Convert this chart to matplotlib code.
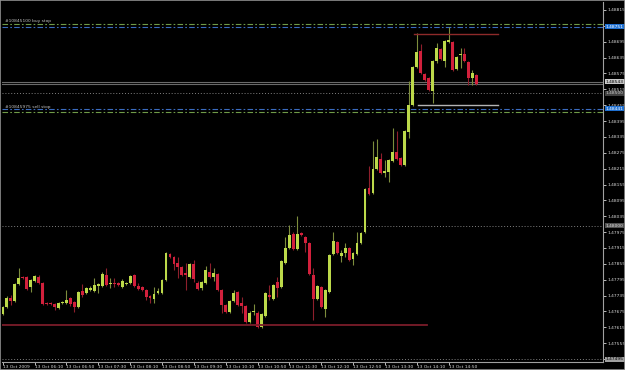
import matplotlib
matplotlib.use("Agg")
import matplotlib.pyplot as plt
import matplotlib.transforms as mtransforms
from matplotlib import font_manager

# narrow face if the box has one, else plain DejaVu
names = {f.name for f in font_manager.fontManager.ttflist}
NARROW = 'DejaVu Sans Condensed' in names or 'Liberation Sans Narrow' in names
plt.rcParams['font.family'] = ['DejaVu Sans Condensed', 'Liberation Sans Narrow', 'DejaVu Sans'] \
    if NARROW else ['DejaVu Sans']
FS = 3.7 if NARROW else 3.2

# EURUSD M5, 13 Oct 2009 -- one value per candle
opens = [
    1.47666, 1.47692, 1.47726, 1.47715, 1.47779, 1.47806, 1.47806, 1.47768, 1.47791, 1.47806,
    1.47783, 1.47707, 1.47706, 1.47704, 1.47689, 1.47707, 1.47707, 1.47726, 1.47711, 1.47692,
    1.47753, 1.47745, 1.47757, 1.47753, 1.47772, 1.47772, 1.47813, 1.47779, 1.47780, 1.47783,
    1.47768, 1.47779, 1.47783, 1.47813, 1.47772, 1.47768, 1.47757, 1.47734, 1.47723, 1.47745,
    1.47745, 1.47794, 1.47893, 1.47881, 1.47859, 1.47844, 1.47821, 1.47806, 1.47855, 1.47783,
    1.47764, 1.47783, 1.47825, 1.47806, 1.47817, 1.47757, 1.47700, 1.47673, 1.47715, 1.47749,
    1.47707, 1.47696, 1.47636, 1.47673, 1.47670, 1.47617, 1.47658, 1.47738, 1.47723, 1.47787,
    1.47768, 1.47859, 1.47915, 1.47968, 1.47912, 1.47972, 1.47957, 1.47934, 1.47813, 1.47723,
    1.47768, 1.47685, 1.47749, 1.47893, 1.47938, 1.47885, 1.47897, 1.47915, 1.47874, 1.47893,
    1.47934, 1.47976, 1.48142, 1.48123, 1.48214, 1.48252, 1.48199, 1.48203, 1.48244, 1.48278,
    1.48256, 1.48229, 1.48354, 1.48456, 1.48600, 1.48660, 1.48573, 1.48558, 1.48509, 1.48622,
    1.48668, 1.48622, 1.48694, 1.48694, 1.48592, 1.48645, 1.48649, 1.48618, 1.48558, 1.48569,
]
highs = [
    1.47696, 1.47734, 1.47738, 1.47783, 1.47840, 1.47810, 1.47810, 1.47798, 1.47813, 1.47813,
    1.47787, 1.47711, 1.47711, 1.47707, 1.47711, 1.47715, 1.47757, 1.47730, 1.47715, 1.47753,
    1.47779, 1.47768, 1.47772, 1.47802, 1.47783, 1.47825, 1.47840, 1.47802, 1.47800, 1.47787,
    1.47798, 1.47787, 1.47813, 1.47817, 1.47783, 1.47772, 1.47760, 1.47738, 1.47768, 1.47764,
    1.47798, 1.47900, 1.47897, 1.47885, 1.47881, 1.47847, 1.47859, 1.47859, 1.47870, 1.47791,
    1.47791, 1.47847, 1.47859, 1.47840, 1.47821, 1.47760, 1.47704, 1.47719, 1.47757, 1.47753,
    1.47730, 1.47700, 1.47677, 1.47704, 1.47677, 1.47670, 1.47749, 1.47776, 1.47779, 1.47806,
    1.47870, 1.47957, 1.48002, 1.47976, 1.48036, 1.47976, 1.47961, 1.47938, 1.47840, 1.47776,
    1.47772, 1.47760, 1.47893, 1.47976, 1.47942, 1.47908, 1.47934, 1.47919, 1.47900, 1.47976,
    1.47976, 1.48142, 1.48225, 1.48320, 1.48327, 1.48275, 1.48248, 1.48252, 1.48369, 1.48358,
    1.48259, 1.48361, 1.48547, 1.48603, 1.48728, 1.48686, 1.48577, 1.48562, 1.48626, 1.48690,
    1.48671, 1.48702, 1.48750, 1.48698, 1.48641, 1.48671, 1.48671, 1.48622, 1.48588, 1.48573,
]
lows = [
    1.47662, 1.47689, 1.47700, 1.47711, 1.47776, 1.47798, 1.47757, 1.47749, 1.47787, 1.47779,
    1.47700, 1.47700, 1.47698, 1.47681, 1.47685, 1.47704, 1.47704, 1.47696, 1.47673, 1.47689,
    1.47730, 1.47742, 1.47753, 1.47749, 1.47745, 1.47768, 1.47772, 1.47764, 1.47766, 1.47772,
    1.47764, 1.47776, 1.47779, 1.47768, 1.47757, 1.47753, 1.47719, 1.47707, 1.47707, 1.47742,
    1.47742, 1.47791, 1.47878, 1.47832, 1.47802, 1.47810, 1.47757, 1.47802, 1.47787, 1.47757,
    1.47757, 1.47779, 1.47802, 1.47791, 1.47753, 1.47670, 1.47670, 1.47670, 1.47711, 1.47696,
    1.47670, 1.47632, 1.47632, 1.47662, 1.47613, 1.47613, 1.47655, 1.47719, 1.47719, 1.47730,
    1.47764, 1.47855, 1.47912, 1.47908, 1.47908, 1.47961, 1.47900, 1.47813, 1.47643, 1.47719,
    1.47689, 1.47655, 1.47745, 1.47889, 1.47893, 1.47862, 1.47881, 1.47866, 1.47851, 1.47889,
    1.47931, 1.47972, 1.48116, 1.48120, 1.48210, 1.48195, 1.48184, 1.48165, 1.48240, 1.48248,
    1.48225, 1.48225, 1.48331, 1.48452, 1.48596, 1.48573, 1.48547, 1.48509, 1.48464, 1.48615,
    1.48626, 1.48600, 1.48690, 1.48584, 1.48588, 1.48596, 1.48618, 1.48532, 1.48532, 1.48532,
]
closes = [
    1.47692, 1.47726, 1.47715, 1.47779, 1.47802, 1.47802, 1.47760, 1.47794, 1.47810, 1.47783,
    1.47704, 1.47704, 1.47703, 1.47692, 1.47707, 1.47711, 1.47719, 1.47704, 1.47692, 1.47749,
    1.47738, 1.47764, 1.47764, 1.47776, 1.47779, 1.47817, 1.47776, 1.47780, 1.47779, 1.47776,
    1.47791, 1.47783, 1.47810, 1.47772, 1.47760, 1.47757, 1.47730, 1.47726, 1.47742, 1.47753,
    1.47794, 1.47897, 1.47881, 1.47855, 1.47844, 1.47813, 1.47813, 1.47855, 1.47798, 1.47760,
    1.47787, 1.47832, 1.47806, 1.47821, 1.47757, 1.47700, 1.47673, 1.47715, 1.47745, 1.47700,
    1.47696, 1.47636, 1.47670, 1.47674, 1.47617, 1.47666, 1.47745, 1.47730, 1.47776, 1.47764,
    1.47866, 1.47915, 1.47965, 1.47912, 1.47968, 1.47965, 1.47934, 1.47817, 1.47723, 1.47772,
    1.47692, 1.47757, 1.47889, 1.47942, 1.47897, 1.47897, 1.47915, 1.47870, 1.47897, 1.47934,
    1.47972, 1.48138, 1.48120, 1.48214, 1.48259, 1.48199, 1.48206, 1.48248, 1.48278, 1.48252,
    1.48229, 1.48358, 1.48456, 1.48600, 1.48656, 1.48577, 1.48550, 1.48513, 1.48622, 1.48671,
    1.48630, 1.48698, 1.48702, 1.48588, 1.48637, 1.48646, 1.48622, 1.48558, 1.48577, 1.48535,
]

time_labels = ["13 Oct 2009", "13 Oct 06:10", "13 Oct 06:50", "13 Oct 07:30", "13 Oct 08:10",
               "13 Oct 08:50", "13 Oct 09:30", "13 Oct 10:10", "13 Oct 10:50", "13 Oct 11:30",
               "13 Oct 12:10", "13 Oct 12:50", "13 Oct 13:30", "13 Oct 14:10", "13 Oct 14:50"]
LABEL_EVERY = 8

price_ticks = [1.47495 + 0.0006 * k for k in range(23)]

BUY_STOP = 1.48751
BUY_STOP_TP = 1.48762
SELL_STOP = 1.48441
SELL_STOP_TP = 1.48429
BID = 1.48535
ASK = 1.48543
LEVEL_1 = 1.48500
LEVEL_2 = 1.48000
LEVEL_3 = 1.47495
SUPPORT = 1.47625
RANGE_TOP = 1.48725
RANGE_BOT = 1.48455

BG = 'black'
BULL = '#bcd94a'
BEAR = '#d2203c'
BULL_WICK = '#7d8d3c'
BEAR_WICK = '#8e1f2c'
FG = '#d8d8d8'

fig = plt.figure(figsize=(6.25, 3.7), dpi=100, facecolor=BG)
ax = fig.add_axes([2 / 625, 8 / 370, 601 / 625, 360 / 370], facecolor=BG)

n = len(closes)
for i in range(n):
    o, h, l, c = opens[i], highs[i], lows[i], closes[i]
    up = c >= o
    ax.vlines(i, l, h, color=BULL_WICK if up else BEAR_WICK, lw=0.8, zorder=2)
    bot = min(o, c)
    height = max(abs(c - o), 0.00004)
    ax.bar(i, height, bottom=bot, width=0.72, color=BULL if up else BEAR, lw=0, zorder=3)

ax.set_xlim(-0.2, 150.8)
ax.set_ylim(1.47484, 1.48845)

# horizontal levels
dotted = (0, (1, 2))
ax.axhline(LEVEL_2, color='#808080', lw=0.7, ls=dotted, zorder=1)
ax.axhline(LEVEL_1, color='#808080', lw=0.7, ls=dotted, zorder=1)
ax.axhline(LEVEL_3, color='#808080', lw=0.7, ls=dotted, zorder=1)
ax.axhline(BID, color='#6a6a6a', lw=0.8, zorder=1)
ax.axhline(ASK, color='#6a6a6a', lw=0.8, zorder=1)
dashdot = (0, (5, 2, 1.5, 2))
ax.axhline(BUY_STOP_TP, color='#6f9a48', lw=0.8, ls=dashdot, zorder=1)
ax.axhline(BUY_STOP, color='#3a6cc0', lw=0.8, ls=dashdot, zorder=1)
ax.axhline(SELL_STOP, color='#3a6cc0', lw=0.8, ls=dashdot, zorder=1)
ax.axhline(SELL_STOP_TP, color='#6f9a48', lw=0.8, ls=dashdot, zorder=1)

ax.text(0.5, BUY_STOP_TP + 0.00003, "#10845100 buy stop", color='#c0c0c0', fontsize=FS,
        va='bottom', ha='left')
ax.text(0.5, SELL_STOP + 0.00001, "#10845975 sell stop", color='#c0c0c0', fontsize=FS,
        va='bottom', ha='left')

# drawn lines
ax.plot([-0.2, 106.6], [SUPPORT, SUPPORT], color='#7a1c2a', lw=1.3, zorder=4)
ax.plot([103.3, 124.4], [RANGE_TOP, RANGE_TOP], color='#8e2a2a', lw=1.0, zorder=4)
ax.plot([104.3, 124.4], [RANGE_BOT, RANGE_BOT], color='#b4b4b4', lw=1.0, zorder=4)

# axes styling
for side in ['left', 'top']:
    ax.spines[side].set_visible(False)
for side in ['right', 'bottom']:
    ax.spines[side].set_color('#a0a0a0')
    ax.spines[side].set_linewidth(0.8)

ax.yaxis.tick_right()
ax.set_yticks(price_ticks)
ax.set_yticklabels(["%.5f" % p for p in price_ticks])
ax.tick_params(axis='y', colors=FG, labelsize=FS, length=2, width=0.6, pad=1)
for lab in ax.get_yticklabels():
    lab.set_horizontalalignment('left')

ax.set_xticks([k * LABEL_EVERY for k in range(len(time_labels))])
ax.set_xticklabels(time_labels, ha='left')
ax.tick_params(axis='x', colors=FG, labelsize=FS, length=2, width=0.6, pad=0.5)

# price boxes on the right scale
trans = mtransforms.blended_transform_factory(ax.transAxes, ax.transData)
boxes = [
    (BUY_STOP, '#1e6fd0', 'white'),
    (SELL_STOP, '#1e6fd0', 'white'),
    (ASK, '#c8c8c8', 'black'),
    (LEVEL_1, '#404040', '#d0d0d0'),
    (LEVEL_2, '#505050', '#e0e0e0'),
    (LEVEL_3, '#a0a0a0', 'black'),
]
for price, bg, fg in boxes:
    ax.text(1.005, price, "%.5f" % price, transform=trans, fontsize=FS, color=fg,
            va='center', ha='left', clip_on=False, zorder=6,
            bbox=dict(boxstyle='square,pad=0.12', fc=bg, ec='none'))

# outer frame
fig.add_artist(plt.Rectangle((0, 0), 1, 1, transform=fig.transFigure, fill=False,
                             ec='#909090', lw=1.2))

fig.savefig('out.png', dpi=100, facecolor=BG)
